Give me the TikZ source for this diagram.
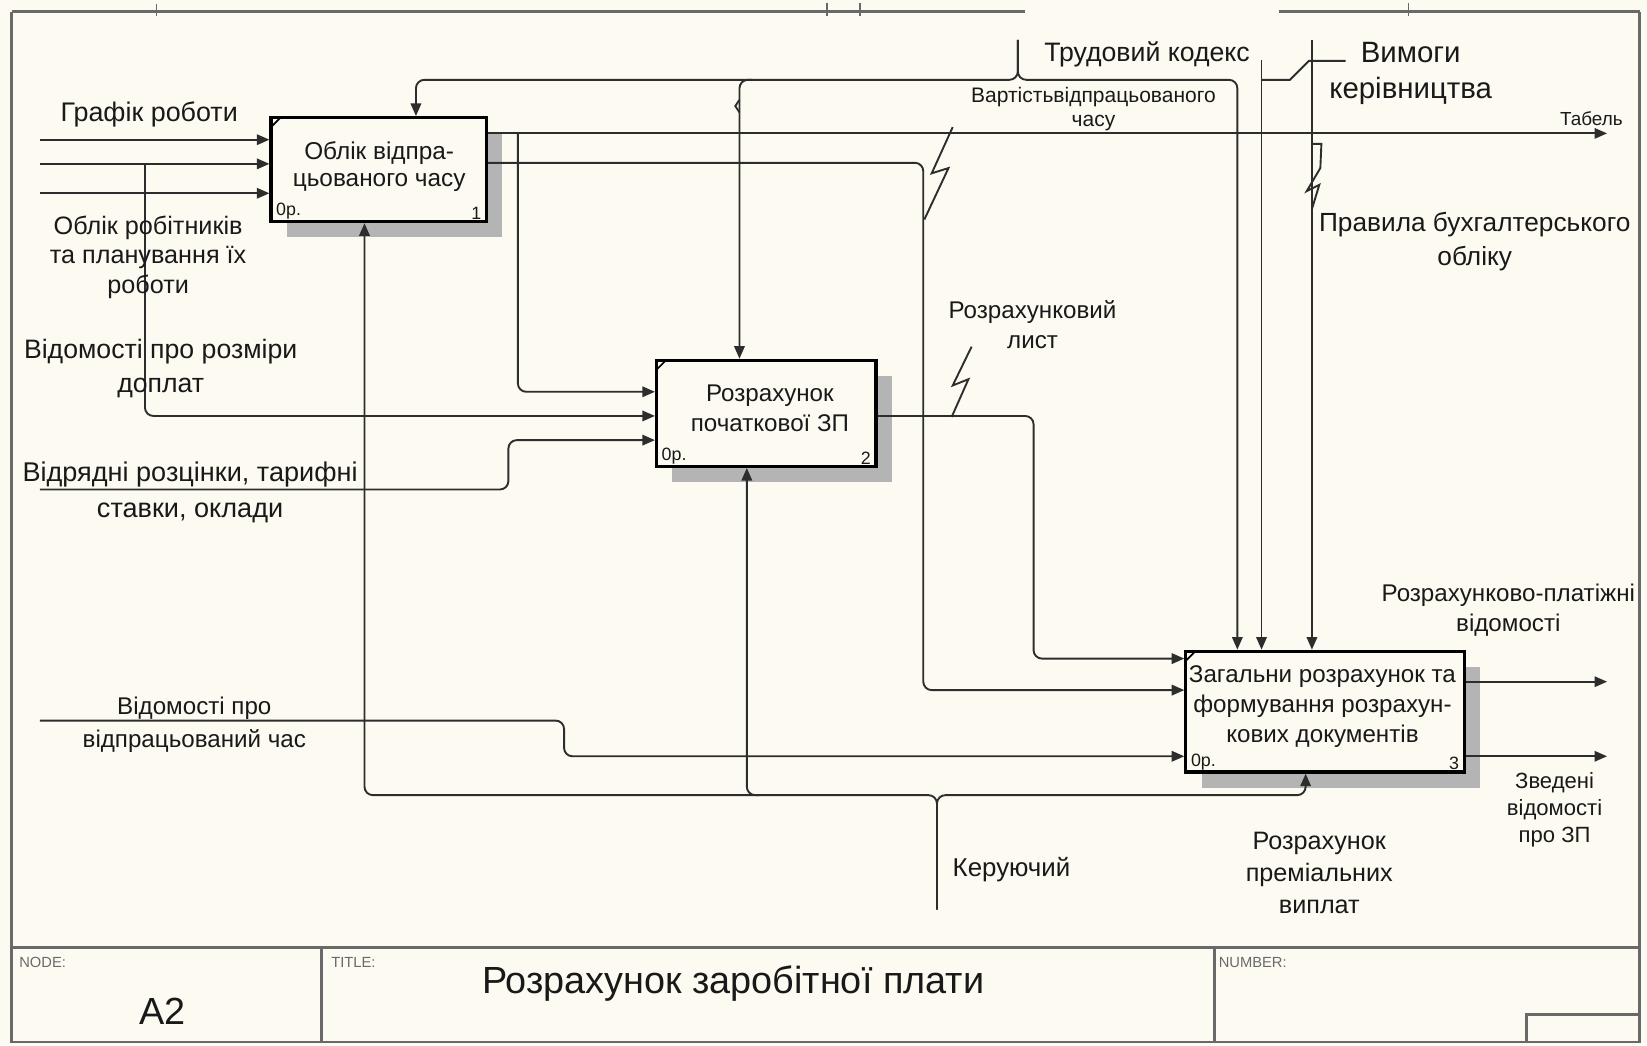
\documentclass[tikz,border=0pt]{standalone}
\usepackage{fontspec}
\setmainfont{Liberation Sans}
\usetikzlibrary{arrows.meta,shadows}
\definecolor{bg}{RGB}{253,251,241}
\definecolor{ln}{RGB}{45,45,45}
\definecolor{shd}{RGB}{180,180,180}
\definecolor{frm}{RGB}{105,105,105}
\definecolor{txt}{RGB}{25,25,25}
\begin{document}
\begin{tikzpicture}[x=0.5pt,y=-0.5pt,
  conn/.style={draw=ln,line width=0.9pt,rounded corners=4pt},
  arr/.style={conn,-{Triangle[length=6pt,width=5pt]}},
  sq/.style={draw=ln,line width=0.9pt},
  frame/.style={draw=frm,line width=1.4pt},
  boxs/.style={draw=black,line width=1.5pt,fill=bg,inner sep=0pt,
    drop shadow={shadow xshift=7.5pt,shadow yshift=-7.5pt,fill=shd,opacity=1}},
  boxtext/.style={text=txt,align=center,inner sep=0pt,font=\fontsize{11}{13}\selectfont},
  small/.style={text=txt,inner sep=0pt,font=\fontsize{8.5}{9}\selectfont},
  lbl/.style={text=txt,align=center,inner sep=0pt,font=\fontsize{12}{15}\selectfont},
  hdr/.style={text=frm,inner sep=0pt,anchor=west,font=\fontsize{7}{8}\selectfont}
]
\useasboundingbox (0,0) rectangle (1568,995);
\fill[bg] (0,0) rectangle (1568,995);

% ---------- frame ----------
\draw[frame] (11,11) -- (976,11);
\draw[frame] (1218,11) -- (1561,11);
\draw[frame] (11,11) -- (11,992) -- (1561,992) -- (1561,11);
\draw[frame] (11,902) -- (1561,902);
\draw[frame] (306,902) -- (306,992);
\draw[frame] (1156,902) -- (1156,992);
\draw[frame] (1453,992) -- (1453,966) -- (1561,966);
\draw[frame,line width=0.8pt] (149,4) -- (149,15);
\draw[frame,line width=0.8pt] (787,3) -- (787,15);
\draw[frame,line width=0.8pt] (819,3) -- (819,15);
\draw[frame,line width=0.8pt] (1341,3) -- (1341,15);

\node[hdr] (hnode) at (18,916) {NODE:};
\node[hdr] (htitle) at (315,916) {TITLE:};
\node[hdr] (hnum) at (1160,916) {NUMBER:};
\node[text=txt,inner sep=0pt,font=\fontsize{18}{20}\selectfont] (nodeid) at (155,963) {A2};
\node[text=txt,inner sep=0pt,font=\fontsize{18}{20}\selectfont] (title) at (698,936) {Розрахунок заробітної плати};

% ---------- boxes ----------
\node[boxs,minimum width=102.5pt,minimum height=49.5pt] (b1) at (360.5,161.5) {};
\node[boxs,minimum width=104.5pt,minimum height=50.5pt] (b2) at (729.5,393.5) {};
\node[boxs,minimum width=132.5pt,minimum height=57.5pt] (b3) at (1261.5,677.5) {};

\node[boxtext,font=\fontsize{11.6}{12.5}\selectfont] (b1t) at (361,158.5) {Облік відпра-\\цьованого часу};
\node[boxtext,font=\fontsize{11.5}{14.5}\selectfont] (b2t) at (733,388.5) {Розрахунок\\початкової ЗП};
\node[boxtext,font=\fontsize{11.5}{14.25}\selectfont] (b3t) at (1259,672.5) {Загальни розрахунок та\\формування розрахун-\\кових документів};

\foreach \b/\n in {b1/1,b2/2,b3/3}{
  \node[small,anchor=south west] (\b o) at ([shift={(3pt,1.5pt)}]\b.south west) {0р.};
  \node[small,anchor=south east] (\b n) at ([shift={(-3pt,1.5pt)}]\b.south east) {\n};
  \draw[line width=0.8pt] ([shift={(1pt,-5pt)}]\b.north west) -- ([shift={(5pt,-1pt)}]\b.north west);
}

% ---------- inputs of box 1 ----------
\coordinate (i1) at (38,133);
\coordinate (i2) at (38,156);
\coordinate (i3) at (38,184);
\draw[arr] (i1) -- (b1.west |- i1);
\draw[arr] (i2) -- (b1.west |- i2);
\draw[arr] (i3) -- (b1.west |- i3);
\coordinate (j2) at (138,156);
\coordinate (b2i2) at (600,396);
\draw[arr] (j2) -- (j2 |- b2i2) -- (b2.west |- b2i2);

% ---------- outputs of box 1 ----------
\coordinate (o1) at (1530,127);
\draw[arr] (b1.east |- o1) -- (o1);
\coordinate (j3) at (493,127);
\coordinate (b2i1) at (600,373);
\draw[arr] (j3) -- (j3 |- b2i1) -- (b2.west |- b2i1);
\coordinate (b1o2) at (470,155);
\coordinate (b3i2) at (879,657);
\draw[arr] (b1.east |- b1o2) -- (b3i2 |- b1o2) -- (b3i2) -- (b3.west |- b3i2);

% ---------- other inputs ----------
\coordinate (i4) at (38,466);
\coordinate (b2i3) at (484,419);
\draw[arr] (i4) -- (b2i3 |- i4) -- (b2i3) -- (b2.west |- b2i3);
\coordinate (b3i1) at (984,627);
\draw[arr] (b2.east |- b2i2) -- (b3i1 |- b2i2) -- (b3i1) -- (b3.west |- b3i1);
\coordinate (i5) at (38,686);
\coordinate (b3i3) at (537,720);
\draw[arr] (i5) -- (b3i3 |- i5) -- (b3i3) -- (b3.west |- b3i3);

% ---------- outputs of box 3 ----------
\coordinate (o2) at (1530,649);
\coordinate (o3) at (1530,720);
\draw[arr] (b3.east |- o2) -- (o2);
\draw[arr] (b3.east |- o3) -- (o3);

% ---------- controls ----------
\coordinate (t1) at (969,38);
\coordinate (tl) at (396,76);
\coordinate (tr) at (1178,76);
\coordinate (tm) at (704,76);
\draw[arr] (t1) -- (t1 |- tl) -- (tl) -- (b1.north -| tl);
\draw[arr] (t1) -- (t1 |- tr) -- (tr) -- (b3.north -| tr);
\draw[arr] ([xshift=6pt]tm) -- (tm) -- (b2.north -| tm);
\draw[sq] (704,95) -- (700,101) -- (704,107);
\coordinate (t2) at (1201,57);
\coordinate (t3) at (1249,38);
\draw[arr] (t2) -- (b3.north -| t2);
\draw[arr] (t3) -- (b3.north -| t3);

% ---------- mechanism ----------
\coordinate (m1) at (892,866);
\coordinate (ml) at (347,757);
\coordinate (mr) at (1243,757);
\coordinate (mm) at (711,757);
\draw[arr] (m1) -- (m1 |- ml) -- (ml) -- (b1.south -| ml);
\draw[arr] (m1) -- (m1 |- mr) -- (mr) -- (b3.south -| mr);
\draw[arr] ([xshift=6pt]mm) -- (mm) -- (b2.south -| mm);

% ---------- squiggles ----------
\draw[sq] (907,121) -- (887,165) -- (903,160) -- (880,209);
\draw[sq] (925,330) -- (907,367) -- (922,361) -- (906,397);
\draw[sq] (1250,137) -- (1258,137) -- (1257,160) -- (1244,182) -- (1256,176) -- (1249,199);
\draw[sq] (1201,76) -- (1228,76) -- (1246,58) -- (1281,58);

% ---------- labels ----------
\node[lbl,font=\fontsize{12.8}{15}\selectfont] (l1) at (142,109) {Графік роботи};
\node[lbl,font=\fontsize{12}{14.25}\selectfont] (l2) at (141,245) {Облік робітників\\та планування їх\\роботи};
\node[lbl,font=\fontsize{12.7}{16}\selectfont] (l3) at (153,351) {Відомості про розміри\\доплат};
\node[lbl,font=\fontsize{12.9}{17}\selectfont] (l4) at (181,469) {Відрядні розцінки, тарифні\\ставки, оклади};
\node[lbl,font=\fontsize{11.5}{15.5}\selectfont] (l5) at (185,690) {Відомості про\\відпрацьований час};
\node[lbl,font=\fontsize{10}{11.5}\selectfont] (l6) at (1041,104) {Вартістьвідпрацьованого\\часу};
\node[lbl,font=\fontsize{12.7}{15}\selectfont] (l7) at (1092,52) {Трудовий кодекс};
\node[lbl,font=\fontsize{14}{17.5}\selectfont] (l8) at (1343,70) {Вимоги\\керівництва};
\node[lbl,font=\fontsize{9}{10}\selectfont] (l9) at (1515,113) {Табель};
\node[lbl,font=\fontsize{12.5}{16}\selectfont] (l10) at (1404,230) {Правила бухгалтерського\\обліку};
\node[lbl,font=\fontsize{11.5}{14}\selectfont] (l11) at (983,309) {Розрахунковий\\лист};
\node[lbl,font=\fontsize{11.5}{14.5}\selectfont] (l12) at (1436,581) {Розрахунково-платіжні\\відомості};
\node[lbl,font=\fontsize{10.5}{12.75}\selectfont] (l13) at (1480,771) {Зведені\\відомості\\про ЗП};
\node[lbl,font=\fontsize{12}{15.25}\selectfont] (l14) at (1256,831) {Розрахунок\\преміальних\\виплат};
\node[lbl,font=\fontsize{12.3}{15}\selectfont] (l15) at (963,828) {Керуючий};
\end{tikzpicture}
\end{document}
